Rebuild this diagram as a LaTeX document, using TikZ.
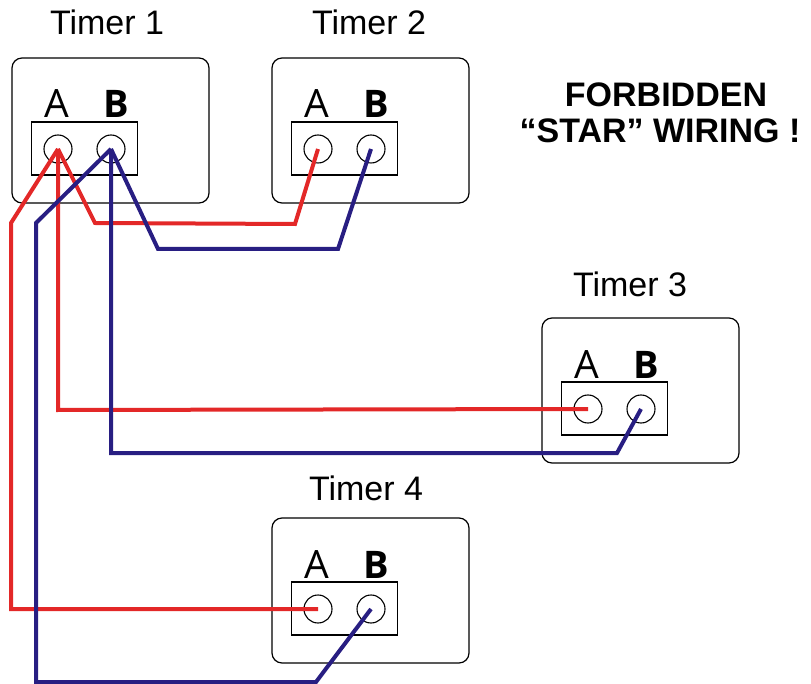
\documentclass[tikz,border=0pt]{standalone}
\usepackage{fontspec}
\setmainfont{Liberation Sans}
\newfontfamily\ablabel{Open Sans}
\definecolor{wirered}{RGB}{227,40,40}
\definecolor{wireblue}{RGB}{40,30,130}
\tikzset{
  timerbox/.style={draw, line width=1.2pt, rounded corners=10pt, minimum width=197pt, minimum height=145pt, inner sep=0pt},
  termblock/.style={draw, line width=1.2pt, minimum width=106pt, minimum height=53pt, inner sep=0pt},
  term/.style={draw, circle, line width=1.1pt, minimum size=28pt, inner sep=0pt},
  tlabel/.style={anchor=base, font=\fontsize{34}{40}\selectfont, inner sep=0pt},
  ablab/.style={anchor=base, font=\ablabel\fontsize{39}{40}\selectfont, inner sep=0pt},
  bblab/.style={anchor=base, font=\ablabel\bfseries\fontsize{38}{40}\selectfont, inner sep=0pt},
  warn/.style={anchor=base, font=\bfseries\fontsize{34}{36}\selectfont, inner sep=0pt},
  redw/.style={draw=wirered, line width=4pt, line join=miter},
  bluew/.style={draw=wireblue, line width=4pt, line join=miter},
}
\newcommand{\mytimer}[3]{% name, Ax, Ay
  \node[timerbox] (#1box) at (#2+52.5, #3-18.5) {};
  \node[termblock] (#1blk) at (#2+26.5, #3-0.5) {};
  \node[term] (#1a) at (#2, #3) {};
  \node[term] (#1b) at (#2+53, #3) {};
  \node[ablab] (#1la) at (#2-1, #3-31) {A};
  \node[bblab] (#1lb) at (#2+58, #3-31) {B};
}
\begin{document}
\begin{tikzpicture}[x=1pt,y=-1pt]
\useasboundingbox (0,0) rectangle (811,684);
\mytimer{ta}{58}{149}
\mytimer{tb}{318}{149}
\mytimer{tc}{588}{409}
\mytimer{td}{318}{609}
\node[tlabel] (lab1) at (107,35) {Timer 1};
\node[tlabel] (lab2) at (369,35) {Timer 2};
\node[tlabel] (lab3) at (630,297) {Timer 3};
\node[tlabel] (lab4) at (366,500) {Timer 4};
\node[warn] (w1) at (666,107) {FORBIDDEN};
\node[warn] (w2) at (660,143) {“STAR” WIRING !};
% wires
\draw[redw] (taa.center) -- (95,223) -- (295,224) -- (tba.center);
\draw[bluew] (tab.center) -- (158,249) -- (338,249) -- (tbb.center);
\draw[redw] (taa.center) -- (58,410) -- (tca.center);
\draw[bluew] (tab.center) -- (111,453) -- (617,453) -- (tcb.center);
\draw[redw] (taa.center) -- (11,223) -- (11,609) -- (tda.center);
\draw[bluew] (tab.center) -- (36,223) -- (36,682) -- (316,682) -- (tdb.center);
\end{tikzpicture}
\end{document}
